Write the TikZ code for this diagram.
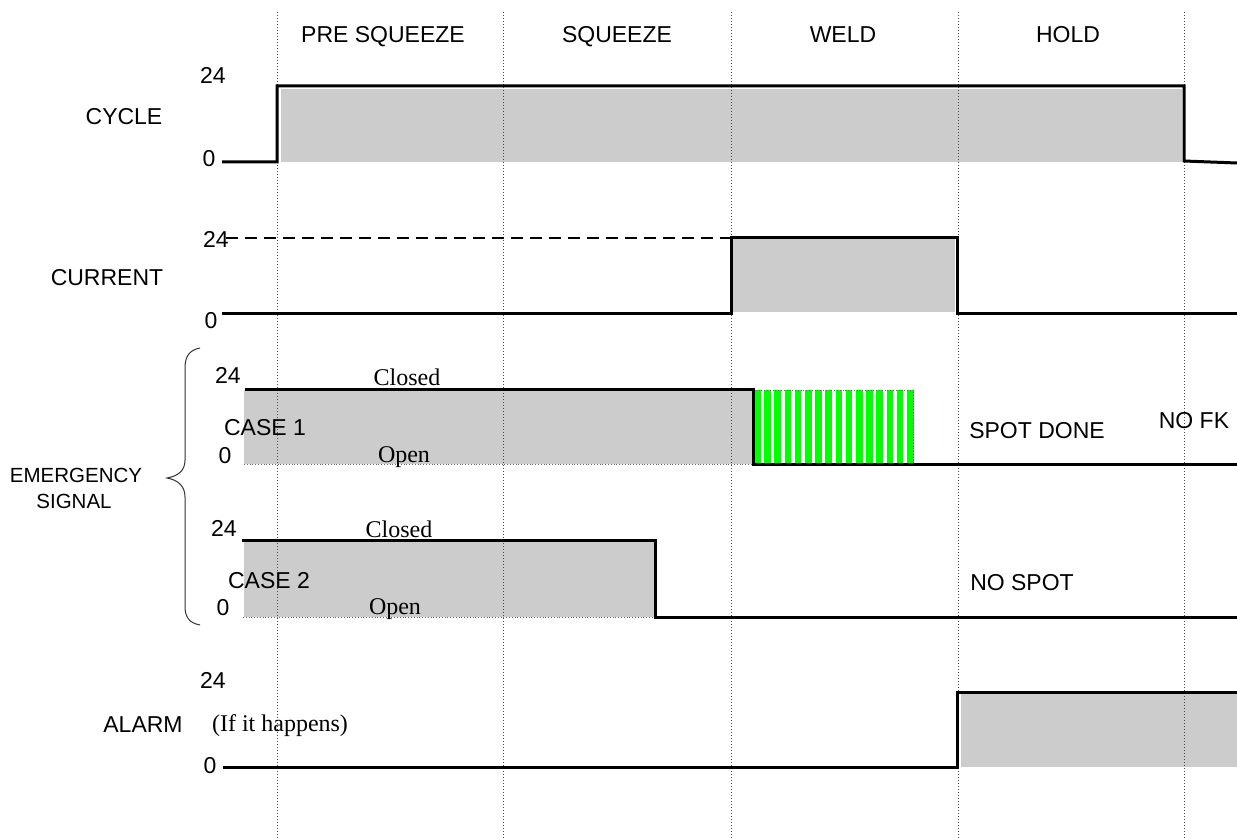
\documentclass[tikz,border=0pt]{standalone}
\usepackage{fontspec}
\setmainfont{Liberation Sans}
\newfontfamily\tmsfont{Liberation Serif}
\definecolor{gfill}{HTML}{CCCCCC}
\definecolor{stripe}{HTML}{00FF00}
\begin{document}
\begin{tikzpicture}[x=1pt,y=-1pt,
  lbl/.style={font=\fontsize{23}{27}\selectfont, inner sep=0pt, anchor=base},
  slbl/.style={font=\fontsize{20.5}{24}\selectfont, inner sep=0pt, anchor=base},
  tlbl/.style={font=\tmsfont\fontsize{24}{28}\selectfont, inner sep=0pt, anchor=base},
  sig/.style={line width=3pt, line join=miter},
  gridline/.style={dotted, line width=1pt, black!70},
  shade/.style={fill=gfill, draw=none},
  edgedot/.style={dotted, line width=0.8pt, black!60},
  bracestyle/.style={line width=1pt, black!80}]
\useasboundingbox (0,0) rectangle (1237,840);
\fill[white] (0,0) rectangle (1237,840);

% gray fills
\fill[gfill] (281,89) rectangle (1182,162);
\fill[gfill] (733,239) rectangle (955,312);
\fill[gfill] (244,390) rectangle (752,464);
\fill[gfill] (244,541) rectangle (654,617);
\fill[gfill] (961,694) rectangle (1237,767);
\draw[edgedot] (244,464) -- (752,464);
\draw[edgedot] (243,617) -- (654,617);

% green stripes
\foreach \i in {0,...,15} {
  \fill[stripe] ({754+\i*10.2},390) rectangle ({760.5+\i*10.2},463);
}
\draw[edgedot] (753,390) -- (913,390) -- (913,463);

% vertical grid lines
\foreach \x/\n in {277/a,503/b,731/c,958/d,1184/e} {
  \coordinate (t\n) at (\x,12);
  \coordinate (b\n) at (\x,840);
  \draw[gridline] (t\n) -- (b\n);
}

% headers
\node[lbl] (hpre) at (383,43) {PRE SQUEEZE};
\node[lbl] (hsq) at (617,43) {SQUEEZE};
\node[lbl] (hweld) at (843,43) {WELD};
\node[lbl] (hhold) at (1068,43) {HOLD};

% CYCLE
\node[lbl] (cyc) at (124,125) {CYCLE};
\node[lbl] (cyc24) at (213,84) {24};
\node[lbl] (cyc0) at (209,167) {0};
\coordinate (c1) at (222,162);
\coordinate (c2) at (1237,163);
\draw[sig] (c1) -- (277,162) -- (277,86) -- (1184,86) -- (1184,161) -- (c2);

% CURRENT
\node[lbl] (cur) at (107,285) {CURRENT};
\node[lbl] (cur24) at (216,247) {24};
\node[lbl] (cur0) at (211,328) {0};
\coordinate (d1) at (226,238);
\coordinate (d2) at (731,238);
\draw[line width=1.5pt, dash pattern=on 12pt off 7pt] (d1) -- (d2);
\coordinate (i1) at (222,313);
\coordinate (i2) at (1237,313);
\draw[sig] (i1) -- (731,313) -- (731,237) -- (957,237) -- (957,313) -- (i2);

% EMERGENCY SIGNAL
\node[slbl] (em1) at (76,482) {EMERGENCY};
\node[slbl] (em2) at (74,508) {SIGNAL};
\draw[bracestyle] (200,348) .. controls (189,350) and (185,357) .. (185,368)
  -- (185,460) .. controls (185,471) and (178,476) .. (167,478)
  .. controls (178,480) and (185,486) .. (185,497)
  -- (185,606) .. controls (185,617) and (189,623) .. (200,625);

% CASE 1
\node[lbl] (k1a) at (228,383) {24};
\node[lbl] (k1b) at (225,463) {0};
\node[lbl] (k1c) at (265,435) {CASE 1};
\node[tlbl] (k1d) at (407,385) {Closed};
\node[tlbl] (k1e) at (404,462) {Open};
\coordinate (e1) at (245,389);
\coordinate (e2) at (1237,464);
\draw[sig] (e1) -- (753,389) -- (753,464) -- (e2);
\node[lbl] (spd) at (1037,438) {SPOT DONE};
\node[lbl] (nofk) at (1194,428) {NO FK};

% CASE 2
\node[lbl] (k2a) at (224,536) {24};
\node[lbl] (k2b) at (223,615) {0};
\node[lbl] (k2c) at (269,588) {CASE 2};
\node[tlbl] (k2d) at (399,537) {Closed};
\node[tlbl] (k2e) at (395,614) {Open};
\coordinate (f1) at (242,540);
\coordinate (f2) at (1237,617);
\draw[sig] (f1) -- (655,540) -- (655,617) -- (f2);
\node[lbl] (nosp) at (1022,590) {NO SPOT};

% ALARM
\node[lbl] (alm) at (143,732) {ALARM};
\node[tlbl] (ifh) at (280,731) {(If it happens)};
\node[lbl] (alm24) at (213,688) {24};
\node[lbl] (alm0) at (210,773) {0};
\coordinate (g1) at (223,767);
\coordinate (g2) at (1237,692);
\draw[sig] (g1) -- (957,767) -- (957,692) -- (g2);
\end{tikzpicture}
\end{document}
